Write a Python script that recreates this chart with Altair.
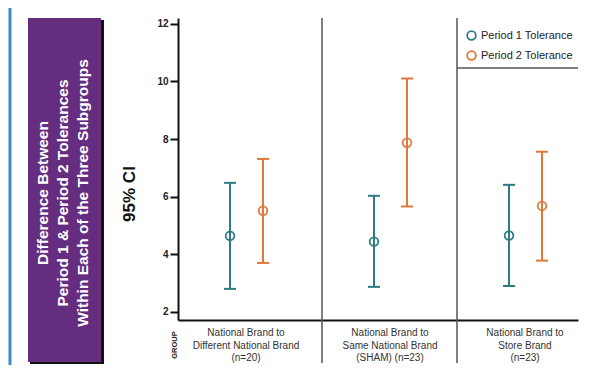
import altair as alt
import pandas as pd

# ---- data ----
groups = [
    "National Brand to\nDifferent National Brand\n(n=20)",
    "National Brand to\nSame National Brand\n(SHAM) (n=23)",
    "National Brand to\nStore Brand\n(n=23)",
]
group_start = [0, 144, 279]      # left boundary of each group panel (x units)
group_end = [144, 279, 400]
periods = ["Period 1 Tolerance", "Period 2 Tolerance"]
period_offset = [52, 85]
cap_half = 6
p1_mean = [4.64, 4.44, 4.65]
p1_low = [2.80, 2.87, 2.90]
p1_high = [6.48, 6.03, 6.41]
p2_mean = [5.51, 7.87, 5.68]
p2_low = [3.70, 5.66, 3.78]
p2_high = [7.31, 10.10, 7.56]
y_ticks = [2, 4, 6, 8, 10, 12]

TEAL = "#2d7c84"
ORANGE = "#e0773b"
PURPLE = "#652d7f"

rows = []
for i, g in enumerate(groups):
    for p, off, m, lo, hi in [
        (periods[0], period_offset[0], p1_mean[i], p1_low[i], p1_high[i]),
        (periods[1], period_offset[1], p2_mean[i], p2_low[i], p2_high[i]),
    ]:
        x = group_start[i] + off
        rows.append({"group": g, "period": p, "x": x,
                     "xa": x - cap_half, "xb": x + cap_half,
                     "mean": m, "lo": lo, "hi": hi})
df = pd.DataFrame(rows)

lab_df = pd.DataFrame({"group": groups,
                       "x": [s + 68 for s in group_start]})
div_df = pd.DataFrame({"x": group_start[1:]})
leg_df = pd.DataFrame({"x": [group_start[2]], "x2": [group_end[2]]})
one = pd.DataFrame({"a": [0]})

xscale = alt.Scale(domain=[0, 400], nice=False, zero=False)
yscale = alt.Scale(domain=[1.72, 12.2], nice=False, zero=False)
xaxis = alt.Axis(labels=False, ticks=False, title=None, grid=False,
                 domainColor="#111", domainWidth=2)
yaxis = alt.Axis(values=y_ticks, title=None, grid=False,
                 domainColor="#111", domainWidth=2,
                 tickColor="#111", tickWidth=2, tickSize=8,
                 labelFont="Liberation Sans", labelFontWeight="bold",
                 labelFontSize=10, labelColor="#222", labelPadding=2)
color_scale = alt.Scale(domain=periods, range=[TEAL, ORANGE])
legend = alt.Legend(title=None, orient="none", legendX=288, legendY=12,
                    symbolType="circle", symbolSize=75,
                    symbolStrokeWidth=1.8,
                    labelFont="Liberation Sans", labelFontSize=11,
                    labelColor="#222", rowPadding=3, labelOffset=4,
                    padding=0)

def X(field="x"):
    return alt.X(f"{field}:Q", scale=xscale, axis=xaxis)

def Y(field):
    return alt.Y(f"{field}:Q", scale=yscale, axis=yaxis)

def C():
    return alt.Color("period:N", scale=color_scale, legend=legend)

base = alt.Chart(df)

bars = base.mark_rule(strokeWidth=2).encode(x=X(), y=Y("lo"), y2="hi", color=C())

caps_lo = base.mark_rule(strokeWidth=2).encode(
    x=X("xa"), x2="xb", y=Y("lo"), color=C())
caps_hi = base.mark_rule(strokeWidth=2).encode(
    x=X("xa"), x2="xb", y=Y("hi"), color=C())

points = base.mark_point(shape="circle", filled=False, size=75,
                         strokeWidth=1.8, opacity=1).encode(
    x=X(), y=Y("mean"), color=C())

dividers = alt.Chart(div_df).mark_rule(color="#555", strokeWidth=1.5).encode(
    x=X(), y=alt.value(0), y2=alt.value(345))

legend_line = alt.Chart(leg_df).mark_rule(color="#555", strokeWidth=1.5).encode(
    x=X(), x2="x2", y=alt.value(50))

group_labels = alt.Chart(lab_df).mark_text(
    lineBreak="\n", font="Liberation Sans", fontSize=10, color="#333",
    baseline="top", align="center", lineHeight=12.5).encode(
    x=X(), y=alt.value(310), text="group:N")

group_word = alt.Chart(one).mark_text(
    text="GROUP", angle=270, font="Liberation Sans", fontWeight="bold",
    fontSize=7.5, color="#222", align="center", baseline="middle").encode(
    x=alt.value(-3), y=alt.value(327))

ci_title = alt.Chart(one).mark_text(
    text="95% CI", angle=270, font="Liberation Sans", fontWeight="bold",
    fontSize=17, color="#111", align="center", baseline="middle").encode(
    x=alt.value(-48), y=alt.value(176))

blue_line = alt.Chart(one).mark_rule(color="#3a8dcc", strokeWidth=3).encode(
    x=alt.value(-168), y=alt.value(-10), y2=alt.value(347))

shadow = alt.Chart(one).mark_rect(color="#111").encode(
    x=alt.value(-148), x2=alt.value(-74), y=alt.value(2), y2=alt.value(346))
box = alt.Chart(one).mark_rect(color=PURPLE).encode(
    x=alt.value(-150), x2=alt.value(-77), y=alt.value(0), y2=alt.value(344))

box_title = alt.Chart(one).mark_text(
    text="Difference Between\nPeriod 1 & Period 2 Tolerances\nWithin Each of the Three Subgroups",
    lineBreak="\n", angle=270, font="Liberation Sans", fontWeight="bold",
    fontSize=15.5, lineHeight=20, color="white", align="center",
    baseline="middle").encode(x=alt.value(-135), y=alt.value(175))

chart = alt.layer(
    blue_line, shadow, box, box_title, ci_title,
    dividers, legend_line, bars, caps_lo, caps_hi, points,
    group_labels, group_word,
).properties(
    width=400, height=302,
    padding={"left": 170, "top": 10, "right": 3, "bottom": 45},
    autosize="none",
).configure_view(stroke=None)

chart.save("out.html", embed_options={"renderer": "svg", "actions": False})
